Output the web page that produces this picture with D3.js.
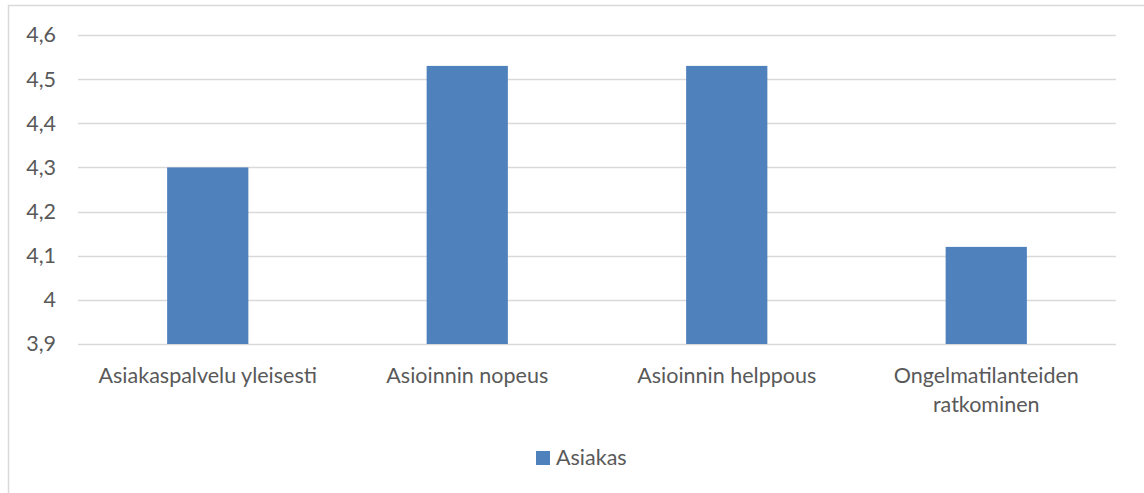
<!DOCTYPE html>
<html>
<head>
<meta charset="utf-8">
<script src="https://cdn.jsdelivr.net/npm/d3@7"></script>
<style>
  html, body { margin: 0; padding: 0; background: #fff; }
  svg { display: block; }
</style>
</head>
<body>
<svg id="chart" width="1144" height="493"></svg>
<script>
// Asiakastyytyväisyys, keskiarvot
const categories = [
  ["Asiakaspalvelu yleisesti"],
  ["Asioinnin nopeus"],
  ["Asioinnin helppous"],
  ["Ongelmatilanteiden", "ratkominen"]
];
const values = [4.30, 4.53, 4.53, 4.12];
const yTicks = [3.9, 4.0, 4.1, 4.2, 4.3, 4.4, 4.5, 4.6];
const seriesName = "Asiakas";

const svg = d3.select("#chart");
const font = "Lato, 'Open Sans', sans-serif";
const fontSize = 21.5;
const textColor = "#595959";
const barColor = "#4f81bd";

// chart frame
svg.append("rect")
  .attr("x", 8.5).attr("y", 5.5)
  .attr("width", 1150).attr("height", 500)
  .attr("fill", "#fff").attr("stroke", "#d9d9d9").attr("stroke-width", 1.5);

const plot = { left: 78, right: 1116, top: 35, bottom: 344 };

const x = d3.scaleBand()
  .domain(d3.range(categories.length))
  .range([plot.left, plot.right])
  .paddingInner(0.687).paddingOuter(0.3435);

const y = d3.scaleLinear().domain([3.9, 4.6]).range([plot.bottom, plot.top]);

// gridlines
svg.append("g").selectAll("line").data(yTicks).join("line")
  .attr("x1", plot.left).attr("x2", plot.right)
  .attr("y1", d => Math.round(y(d)) + 0.5).attr("y2", d => Math.round(y(d)) + 0.5)
  .attr("stroke", "#d9d9d9").attr("stroke-width", 1.3);

// y axis labels
const yAxis = d3.axisLeft(y).tickValues(yTicks).tickSize(0).tickPadding(0)
  .tickFormat(d => d3.format(".1~f")(d).replace(".", ","));
const ya = svg.append("g").attr("transform", `translate(56,0)`).call(yAxis);
ya.select(".domain").remove();
ya.selectAll("text").attr("font-family", font).attr("font-size", fontSize).attr("fill", textColor);

// bars
svg.append("g").selectAll("rect").data(values).join("rect")
  .attr("x", (d, i) => x(i))
  .attr("width", x.bandwidth())
  .attr("y", d => y(d))
  .attr("height", d => y(3.9) - y(d))
  .attr("fill", barColor);

// category labels
const xa = svg.append("g");
categories.forEach((lines, i) => {
  const cx = x(i) + x.bandwidth() / 2;
  const t = xa.append("text")
    .attr("x", cx).attr("y", 383)
    .attr("text-anchor", "middle")
    .attr("font-family", font).attr("font-size", fontSize).attr("fill", textColor);
  lines.forEach((ln, j) => {
    t.append("tspan").attr("x", cx).attr("dy", j === 0 ? 0 : 29).text(ln);
  });
});

// legend
const lg = svg.append("g").attr("transform", "translate(536,451)");
lg.append("rect").attr("width", 14).attr("height", 14).attr("fill", barColor);
lg.append("text").attr("x", 20).attr("y", 14)
  .attr("font-family", font).attr("font-size", fontSize).attr("fill", textColor)
  .text(seriesName);
</script>
</body>
</html>
